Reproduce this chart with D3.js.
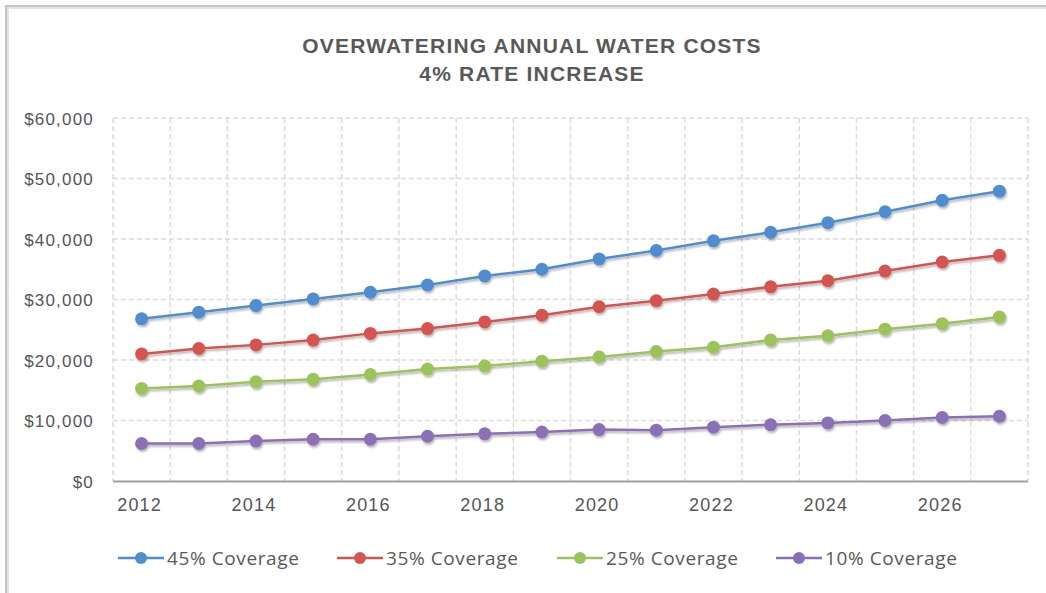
<!DOCTYPE html>
<html>
  <head>
    <meta charset="utf-8">
    <title>Overwatering Annual Water Costs</title>
    <style>
body {
  margin: 0;
  background: #fff;
}
.axis text {
  font-family: "Liberation Sans", Arial, sans-serif;
  font-size: 17px;
  letter-spacing: 1.2px;
  fill: #555;
}
    </style>
  </head>
  <body>
    <div id="chart"></div>
    <script src="https://cdn.jsdelivr.net/npm/d3@7/dist/d3.min.js"></script>
    <script>

    var years = d3.range(2012, 2028);
    var yTicks = [0, 10000, 20000, 30000, 40000, 50000, 60000];

    var cov45 = [26800, 27900, 29000, 30100, 31200, 32400, 33900, 35000, 36700, 38100, 39700, 41100, 42700, 44500, 46400, 47900];
    var cov35 = [21000, 21900, 22500, 23300, 24400, 25200, 26300, 27400, 28800, 29800, 30900, 32100, 33100, 34700, 36200, 37300];
    var cov25 = [15300, 15700, 16400, 16800, 17600, 18500, 19000, 19800, 20500, 21400, 22100, 23300, 24000, 25100, 26000, 27100];
    var cov10 = [6200, 6200, 6600, 6900, 6900, 7400, 7800, 8100, 8500, 8400, 8900, 9300, 9600, 10000, 10500, 10700];

    var seriesNames = ['45% Coverage', '35% Coverage', '25% Coverage', '10% Coverage'];
    var seriesColors = ['#4f8dd0', '#d4554f', '#9cc35a', '#8b6fb6'];
    var series = [cov45, cov35, cov25, cov10];

    var width = 1046, height = 593;
    var margin = {left: 113, right: 18, top: 118, bottom: 112};

    var svg = d3.select('#chart').append('svg')
        .attr('width', width)
        .attr('height', height);

    var defs = svg.append('defs');
    defs.append('filter')
        .attr('id', 'shadow')
        .attr('x', '-50%').attr('y', '-50%')
        .attr('width', '200%').attr('height', '200%')
      .append('feDropShadow')
        .attr('dx', 1).attr('dy', 2)
        .attr('stdDeviation', 1.2)
        .attr('flood-color', '#000')
        .attr('flood-opacity', 0.3);

    // frame: only top and left edges show in the picture
    [['#c4c4c4', 6], ['#e4e4e4', 8]].forEach(function(f) {
      svg.append('line')
          .attr('x1', f[1] - 1).attr('x2', width)
          .attr('y1', f[1]).attr('y2', f[1])
          .style('stroke', f[0]).style('stroke-width', 2);
      svg.append('line')
          .attr('x1', f[1]).attr('x2', f[1])
          .attr('y1', f[1] - 1).attr('y2', height)
          .style('stroke', f[0]).style('stroke-width', 2);
    });

    var title = svg.append('text')
        .attr('text-anchor', 'middle')
        .style('font-family', '"Liberation Sans", Arial, sans-serif')
        .style('font-weight', 'bold')
        .style('font-size', '21px')
        .style('letter-spacing', '1.2px')
        .style('fill', '#595959');
    title.append('tspan').attr('x', 532).attr('y', 53).text('OVERWATERING ANNUAL WATER COSTS');
    title.append('tspan').attr('x', 532).attr('y', 81).text('4% RATE INCREASE');

    var x = d3.scaleBand()
        .domain(years)
        .range([margin.left, width - margin.right]);

    var y = d3.scaleLinear()
        .domain([0, 60000])
        .range([height - margin.bottom, margin.top]);

    var grid = svg.append('g')
        .style('stroke', '#dcdcdc')
        .style('stroke-width', 1.5)
        .style('stroke-dasharray', '5,3');

    grid.selectAll('.hgrid')
        .data(yTicks.slice(1))
        .enter().append('line')
        .attr('x1', margin.left).attr('x2', width - margin.right)
        .attr('y1', function(d) { return y(d); })
        .attr('y2', function(d) { return y(d); });

    var bounds = years.map(function(d) { return x(d); }).concat([width - margin.right]);
    grid.selectAll('.vgrid')
        .data(bounds)
        .enter().append('line')
        .attr('x1', function(d) { return d; })
        .attr('x2', function(d) { return d; })
        .attr('y1', y(60000)).attr('y2', y(0));

    var yAxis = svg.append('g')
        .attr('class', 'axis')
        .attr('transform', 'translate(' + (margin.left - 16) + ',1)')
        .call(d3.axisLeft(y).tickValues(yTicks).tickSize(0)
          .tickFormat(function(d) { return '$' + d3.format(',')(d); }));
    yAxis.select('.domain').remove();

    var xAxis = svg.append('g')
        .attr('class', 'axis')
        .attr('transform', 'translate(-2,' + y(0) + ')')
        .call(d3.axisBottom(x).tickSize(0).tickPadding(17)
          .tickFormat(function(d) { return d % 2 === 0 ? d : ''; }));
    xAxis.select('.domain').remove();
    xAxis.selectAll('text').style('font-size', '18px');

    svg.append('line')
        .attr('x1', margin.left).attr('x2', width - margin.right)
        .attr('y1', y(0) + 0.5).attr('y2', y(0) + 0.5)
        .style('stroke', '#a0a0a0')
        .style('stroke-width', 2);

    var line = d3.line()
        .x(function(d, i) { return x(years[i]) + x.bandwidth() / 2; })
        .y(function(d) { return y(d); });

    series.forEach(function(vals, s) {
      var g = svg.append('g').attr('filter', 'url(#shadow)');
      g.append('path')
          .datum(vals)
          .attr('d', line)
          .style('fill', 'none')
          .style('stroke', seriesColors[s])
          .style('stroke-width', 2.5);
      g.selectAll('circle')
          .data(vals)
          .enter().append('circle')
          .attr('cx', function(d, i) { return x(years[i]) + x.bandwidth() / 2; })
          .attr('cy', function(d) { return y(d); })
          .attr('r', 6.5)
          .style('fill', seriesColors[s]);
    });

    // legend
    var legendX = [118, 337, 557, 776];
    var legend = svg.selectAll('.legend')
        .data(seriesNames)
        .enter().append('g')
        .attr('transform', function(d, i) { return 'translate(' + legendX[i] + ',558)'; });
    legend.append('line')
        .attr('x1', 0).attr('x2', 46)
        .style('stroke', function(d, i) { return seriesColors[i]; })
        .style('stroke-width', 2.5);
    legend.append('circle')
        .attr('cx', 23).attr('r', 6)
        .style('fill', function(d, i) { return seriesColors[i]; });
    legend.append('text')
        .attr('x', 49).attr('y', 7)
        .style('font-family', '"Open Sans", sans-serif')
        .style('font-size', '19px')
        .style('letter-spacing', '0.6px')
        .style('fill', '#595959')
        .text(function(d) { return d; });

    </script>
  </body>
</html>
